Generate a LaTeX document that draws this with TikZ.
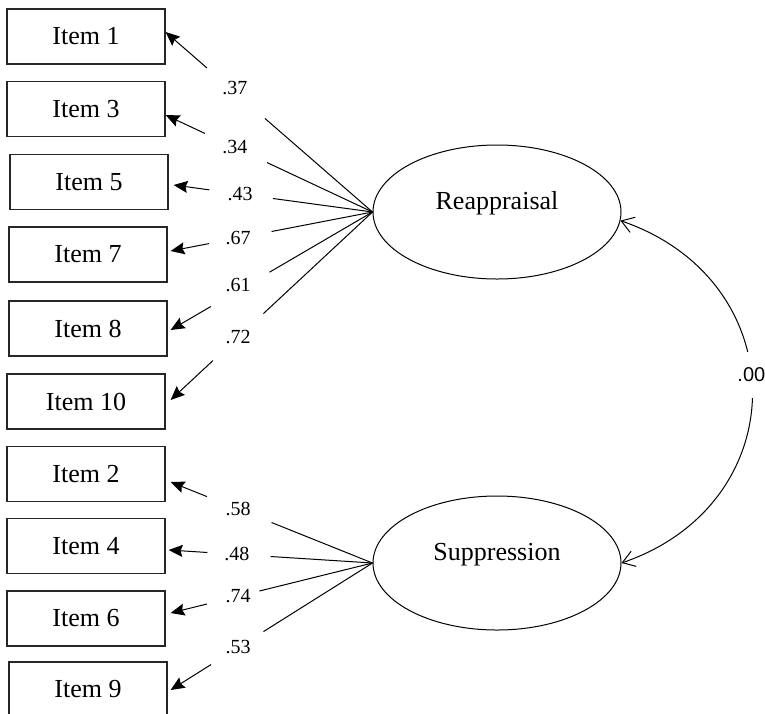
\documentclass[tikz,border=0pt]{standalone}
\usepackage{fontspec}
\setmainfont{Liberation Serif}
\newfontfamily\corrfont{Liberation Sans}
\usetikzlibrary{arrows.meta,calc,shapes.geometric}

\tikzset{
  item/.style={draw=black!85, line width=1.2pt, minimum width=158pt, minimum height=55pt, font=\fontsize{26}{30}\selectfont},
  latent/.style={draw, ellipse, line width=1pt, minimum width=248pt, minimum height=134pt, text height=18pt, text depth=23pt, font=\fontsize{26}{30}\selectfont},
  load/.style={-{Stealth[length=14pt,width=12pt,inset=2pt]}, line width=1pt},
  coef/.style={font=\fontsize{20}{24}\selectfont, inner sep=0pt},
  corr/.style={{Straight Barb[length=12pt,width=16pt]}-{Straight Barb[length=12pt,width=16pt]}, line width=1pt}
}

\begin{document}
\begin{tikzpicture}[x=1pt,y=-1pt]
    \useasboundingbox (0,0) rectangle (765,713);
    \clip (0,0) rectangle (765,713);

    % items
    \node[item] (i1) at (86, 36.5) {Item 1};
    \node[item] (i3) at (86, 109) {Item 3};
    \node[item] (i5) at (89, 182) {Item 5};
    \node[item] (i7) at (88, 254.5) {Item 7};
    \node[item] (i8) at (88, 328.5) {Item 8};
    \node[item] (i10) at (86, 401.5) {Item 10};
    \node[item] (i2) at (86, 474) {Item 2};
    \node[item] (i4) at (86, 546) {Item 4};
    \node[item] (i6) at (86, 618.5) {Item 6};
    \node[item] (i9) at (88, 689.5) {Item 9};

    % factors
    \node[latent] (reap) at (497, 212) {Reappraisal};
    \node[latent] (supp) at (497, 563) {Suppression};

    % arrow tips
    \coordinate (t1) at ([yshift=4.5pt]i1.east);
    \coordinate (t3) at ([yshift=-6pt]i3.east);
    \coordinate (t5) at ([xshift=5pt, yshift=-3pt]i5.east);
    \coordinate (t7) at ([xshift=3pt, yshift=3.5pt]i7.east);
    \coordinate (t8) at ([xshift=3pt, yshift=-1.5pt]i8.east);
    \coordinate (t10) at ([xshift=5pt, yshift=1.5pt]i10.east);
    \coordinate (t2) at ([xshift=5pt, yshift=-8pt]i2.east);
    \coordinate (t4) at ([xshift=3pt, yshift=-4pt]i4.east);
    \coordinate (t6) at ([xshift=5pt, yshift=5.5pt]i6.east);
    \coordinate (t9) at ([xshift=3pt, yshift=-0.5pt]i9.east);

    % reappraisal loadings
    \draw[line width=1pt] (reap.west) -- ($(reap.west)!.52!(t1)$);
    \draw[load] ($(reap.west)!.8!(t1)$) -- (t1);
    \node[coef] at ($(reap.west)!.665!(t1)+(0,-4)$) {.37};

    \draw[line width=1pt] (reap.west) -- ($(reap.west)!.51!(t3)$);
    \draw[load] ($(reap.west)!.81!(t3)$) -- (t3);
    \node[coef] at ($(reap.west)!.665!(t3)$) {.34};

    \draw[line width=1pt] (reap.west) -- ($(reap.west)!.5!(t5)$);
    \draw[load] ($(reap.west)!.82!(t5)$) -- (t5);
    \node[coef] at ($(reap.west)!.665!(t5)$) {.43};

    \draw[line width=1pt] (reap.west) -- ($(reap.west)!.5!(t7)$);
    \draw[load] ($(reap.west)!.81!(t7)$) -- (t7);
    \node[coef] at ($(reap.west)!.665!(t7)$) {.67};

    \draw[line width=1pt] (reap.west) -- ($(reap.west)!.51!(t8)$);
    \draw[load] ($(reap.west)!.8!(t8)$) -- (t8);
    \node[coef] at ($(reap.west)!.665!(t8)+(0,-5)$) {.61};

    \draw[line width=1pt] (reap.west) -- ($(reap.west)!.54!(t10)$);
    \draw[load] ($(reap.west)!.79!(t10)$) -- (t10);
    \node[coef] at ($(reap.west)!.665!(t10)$) {.72};

    % suppression loadings
    \draw[line width=1pt] (supp.west) -- ($(supp.west)!.5!(t2)$);
    \draw[load] ($(supp.west)!.82!(t2)$) -- (t2);
    \node[coef] at ($(supp.west)!.665!(t2)$) {.58};

    \draw[line width=1pt] (supp.west) -- ($(supp.west)!.5!(t4)$);
    \draw[load] ($(supp.west)!.81!(t4)$) -- (t4);
    \node[coef] at ($(supp.west)!.665!(t4)$) {.48};

    \draw[line width=1pt] (supp.west) -- ($(supp.west)!.56!(t6)$);
    \draw[load] ($(supp.west)!.82!(t6)$) -- (t6);
    \node[coef] at ($(supp.west)!.665!(t6)$) {.74};

    \draw[line width=1pt] (supp.west) -- ($(supp.west)!.54!(t9)$);
    \draw[load] ($(supp.west)!.8!(t9)$) -- (t9);
    \node[coef] at ($(supp.west)!.665!(t9)$) {.53};

    % correlation
    \draw[corr] (reap.-4) .. controls +(175,60) and +(175,-60) .. node[pos=.46, fill=white, inner xsep=2pt, inner ysep=16pt, font=\corrfont\fontsize{20}{24}\selectfont] (r) {.00} (supp.east);
\end{tikzpicture}
\end{document}
